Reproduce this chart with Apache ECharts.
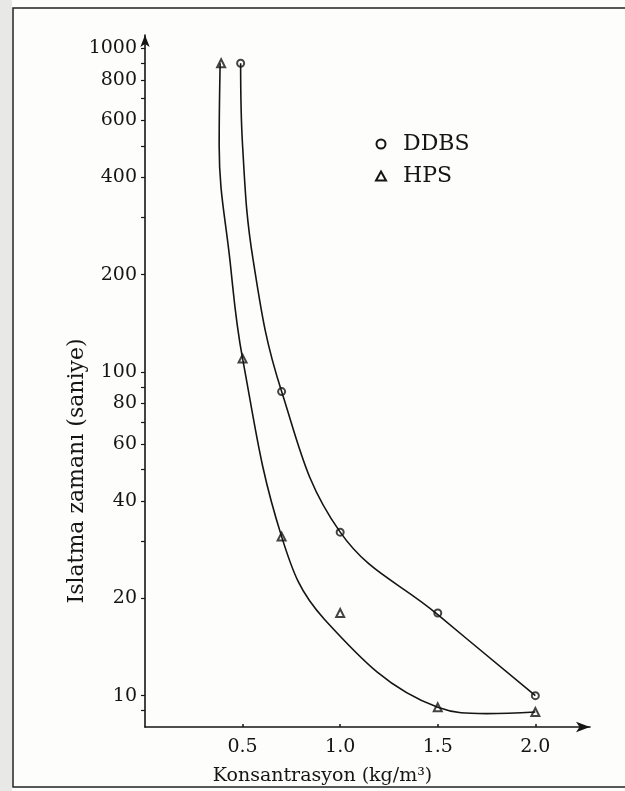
<!DOCTYPE html>
<html>
<head>
<meta charset="utf-8">
<script src="https://cdn.jsdelivr.net/npm/echarts@6/dist/echarts.min.js"></script>
<style>
html,body{margin:0;padding:0;background:#fdfdfc;}
#main{width:625px;height:791px;}
</style>
</head>
<body>
<div id="main"></div>
<script>
// olculen noktalar (isaretler)
var ddbsX = [0.49, 0.7, 1.0, 1.5, 2.0];
var ddbsY = [900, 87, 32, 18, 10];
var hpsX = [0.39, 0.5, 0.7, 1.0, 1.5, 2.0];
var hpsY = [900, 110, 31, 18, 9.2, 8.9];

// elle cizilmis egriler, resimden okunan noktalar
var ddbsCurveX = [0.49, 0.5, 0.554, 0.7, 1.0, 1.5, 2.0];
var ddbsCurveY = [900, 500, 222, 87, 32, 17.8, 10];
var hpsCurveX = [0.385, 0.38, 0.435, 0.5, 0.7, 0.92, 1.5, 1.75, 2.0];
var hpsCurveY = [900, 500, 222, 110, 31, 17.2, 9.2, 8.8, 8.9];

// eksen
var xTicks = [0.5, 1.0, 1.5, 2.0];
var yTicks = [9, 10, 20, 30, 40, 50, 60, 70, 80, 90, 100, 200, 300, 400, 500, 600, 700, 800, 900, 1000];
var yLabels = [10, 20, 40, 60, 80, 100, 200, 400, 600, 800, 1000];

var FONT = '"DejaVu Serif", serif';
var INK = '#151515';

function pairs(xs, ys) {
    return xs.map(function (x, i) { return [x, ys[i]]; });
}

var chart = echarts.init(document.getElementById('main'));
chart.setOption({
    animation: false,
    backgroundColor: '#fdfdfc',
    grid: { left: 145, right: 35, top: 35, bottom: 64 },
    legend: {
        orient: 'vertical',
        left: 370,
        top: 128,
        itemWidth: 10,
        itemHeight: 9,
        itemGap: 10,
        selectedMode: false,
        textStyle: { fontFamily: FONT, fontSize: 22, color: INK, padding: [0, 0, 0, 12] },
        data: [
            { name: 'DDBS', icon: 'emptyCircle' },
            { name: 'HPS', icon: 'emptyTriangle' }
        ]
    },
    xAxis: {
        type: 'value',
        min: 0,
        max: 2.28,
        name: 'Konsantrasyon (kg/m³)',
        nameLocation: 'middle',
        nameGap: 40,
        nameTextStyle: { fontFamily: FONT, fontSize: 19, color: INK, padding: [0, 90, 0, 0] },
        axisLine: {
            lineStyle: { color: INK, width: 1.6 },
            symbol: ['none', 'arrow'],
            symbolSize: [8, 14]
        },
        axisTick: { customValues: xTicks, inside: true, length: 3, lineStyle: { color: INK, width: 1.5 } },
        axisLabel: {
            customValues: xTicks,
            formatter: function (v) { return v.toFixed(1); },
            fontFamily: FONT, fontSize: 19, color: INK, margin: 11
        },
        splitLine: { show: false }
    },
    yAxis: {
        type: 'log',
        logBase: 10,
        min: 8,
        max: 1100,
        axisLine: {
            show: true,
            lineStyle: { color: INK, width: 1.6 },
            symbol: ['none', 'arrow'],
            symbolSize: [7, 12]
        },
        axisTick: { show: true, customValues: yTicks, length: 4, lineStyle: { color: INK, width: 1.2 } },
        axisLabel: {
            customValues: yLabels,
            formatter: function (v) { return String(v); },
            fontFamily: FONT, fontSize: 19, color: INK, margin: 8
        },
        splitLine: { show: false },
        minorTick: { show: false }
    },
    series: [
        {
            name: 'DDBS', type: 'line', data: pairs(ddbsCurveX, ddbsCurveY),
            smooth: 0.4, showSymbol: false, silent: true,
            itemStyle: { color: INK },
            lineStyle: { color: INK, width: 1.6 }
        },
        {
            name: 'DDBS', type: 'scatter', data: pairs(ddbsX, ddbsY),
            symbol: 'emptyCircle', symbolSize: 7,
            itemStyle: { color: INK, borderWidth: 1.3 }
        },
        {
            name: 'HPS', type: 'line', data: pairs(hpsCurveX, hpsCurveY),
            smooth: 0.4, showSymbol: false, silent: true,
            itemStyle: { color: INK },
            lineStyle: { color: INK, width: 1.6 }
        },
        {
            name: 'HPS', type: 'scatter', data: pairs(hpsX, hpsY),
            symbol: 'emptyTriangle', symbolSize: 8,
            itemStyle: { color: INK, borderWidth: 1.3 }
        }
    ],
    graphic: [
        { type: 'rect', shape: { x: 0, y: 0, width: 12, height: 791 }, style: { fill: '#e8e8e6' }, silent: true },
        {
            type: 'polyline', silent: true,
            shape: { points: [[625, 8], [13, 8], [13, 787], [625, 787]] },
            style: { stroke: '#222', lineWidth: 1.5, fill: null }
        },
        {
            type: 'text', x: 77, y: 471, rotation: Math.PI / 2,
            style: {
                text: 'Islatma zamanı (saniye)', font: '22px ' + FONT, fill: INK,
                align: 'center', verticalAlign: 'middle'
            }
        }
    ]
});
</script>
</body>
</html>
